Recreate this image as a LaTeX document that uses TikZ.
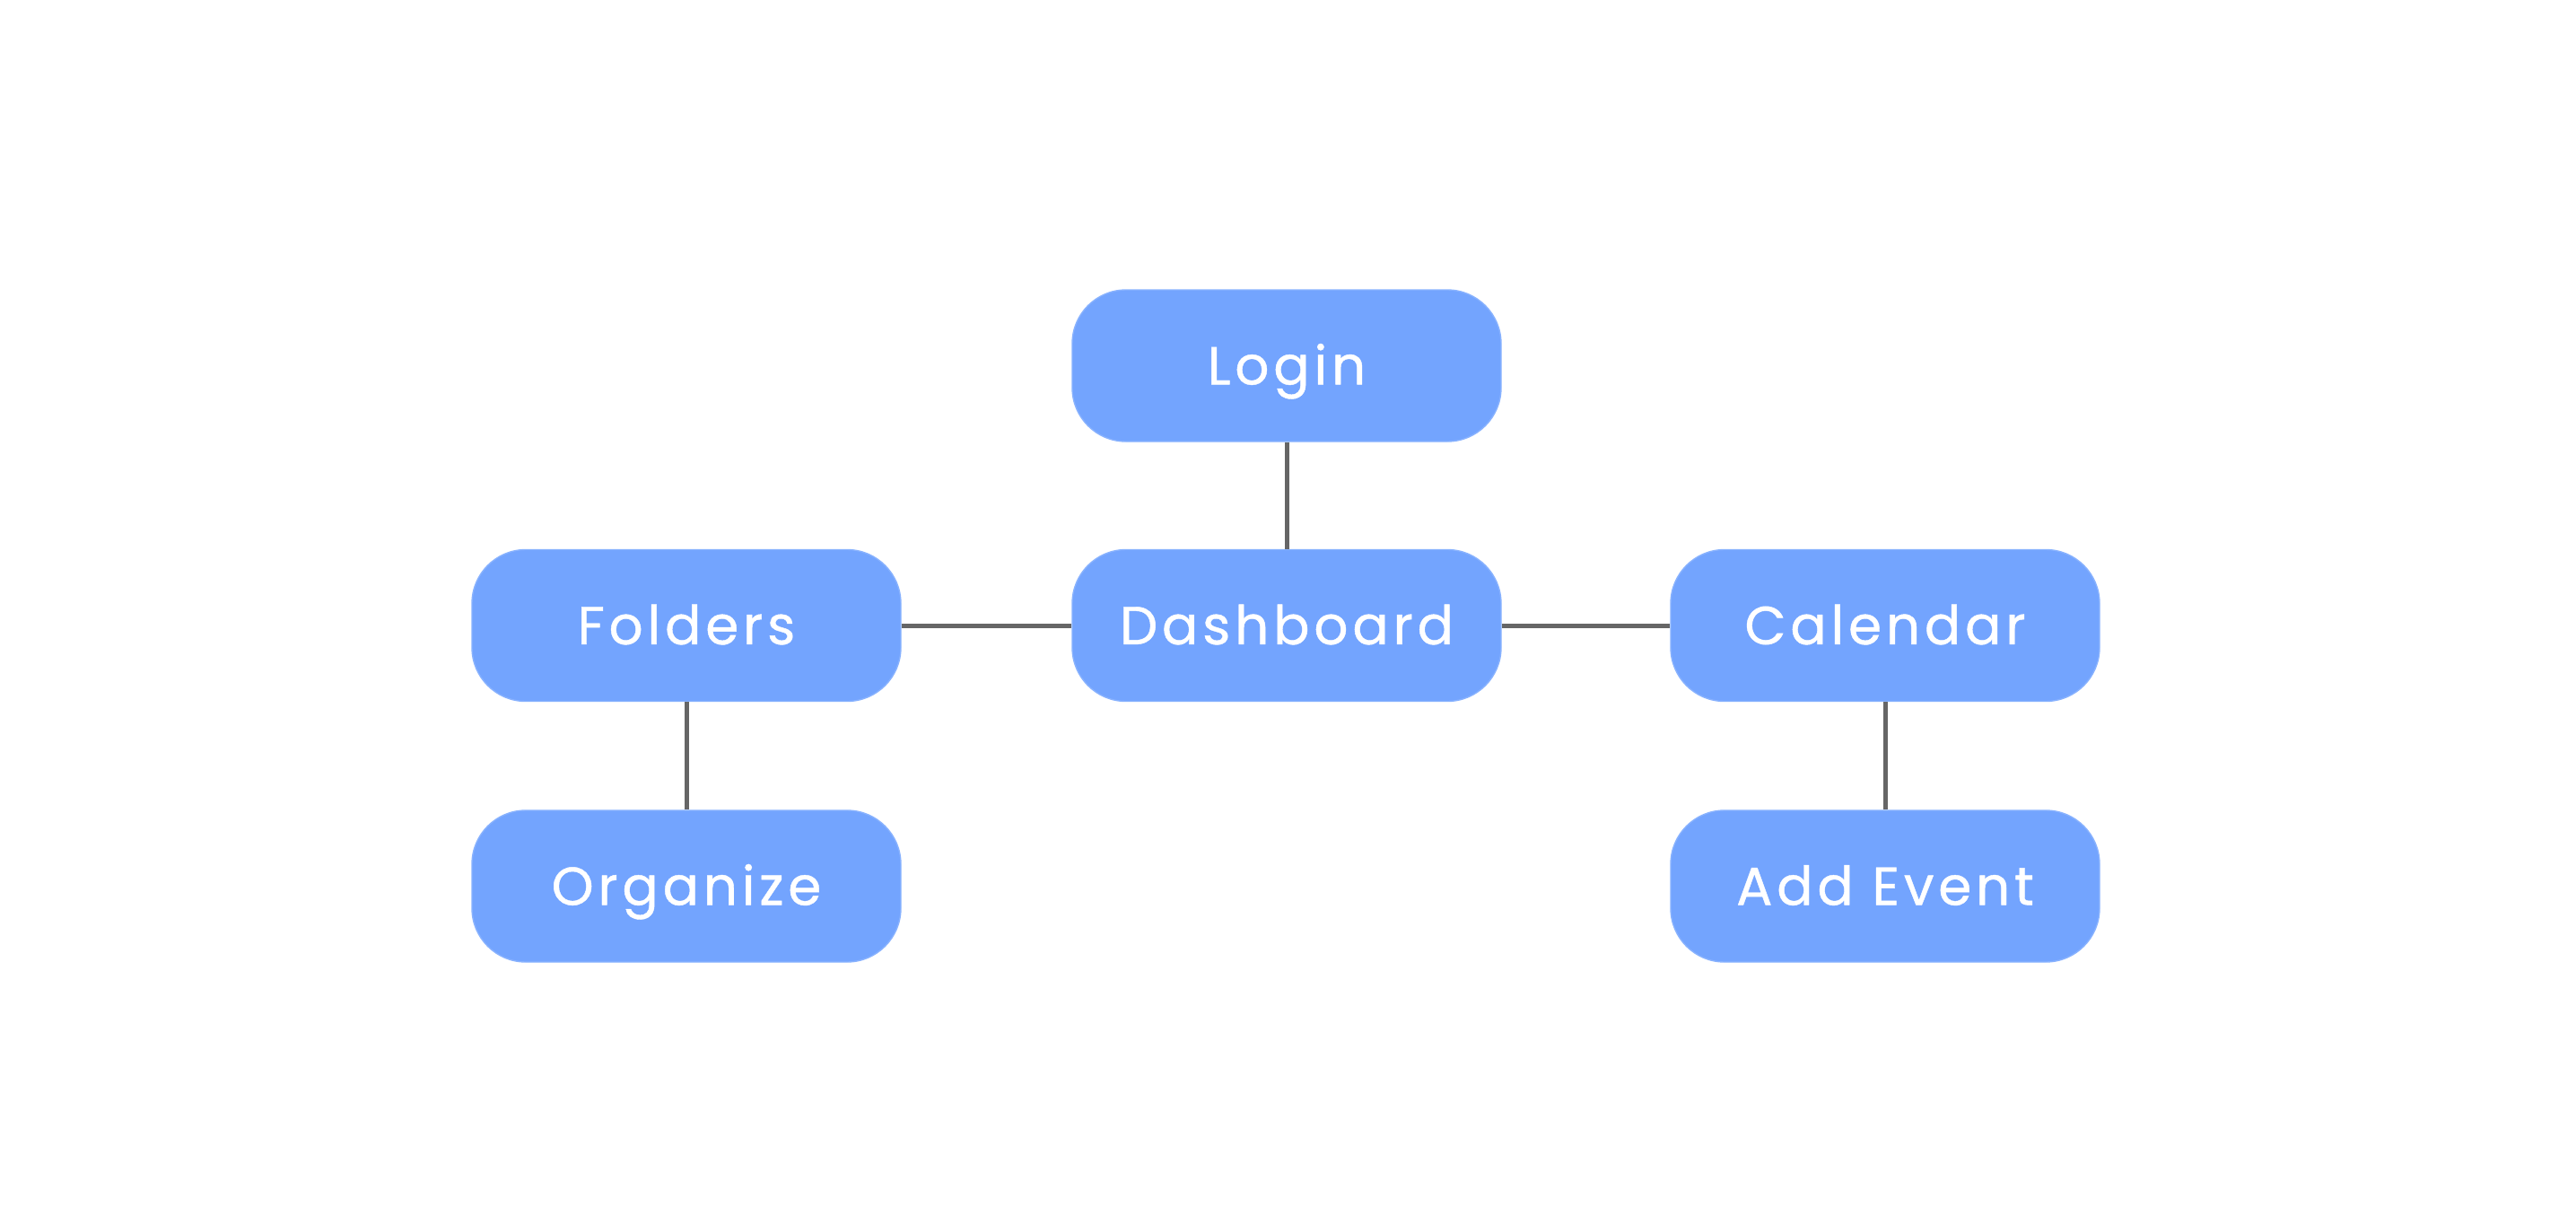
\documentclass[tikz,border=0pt]{standalone}
\usepackage{fontspec}
\setmainfont[LetterSpace=8,FakeBold=0.7]{Poppins}
\usepackage{tikz}

\definecolor{boxblue}{RGB}{115,164,254}
\definecolor{linegray}{RGB}{102,102,102}

\tikzset{
  screen/.style={fill=boxblue, draw=boxblue!85!white, line width=0.4pt,
    rounded corners=0.6cm, minimum width=4.78cm, minimum height=1.69cm,
    inner sep=0pt, text=white, font=\fontsize{17}{20}\selectfont,
    text height=11.9pt, text depth=0pt},
  link/.style={linegray, line width=0.05cm}
}

\begin{document}
\begin{tikzpicture}
    \useasboundingbox (0,0) rectangle (28.71,-13.45);

    \node [screen] (login) at (14.34,-4.075) {Login};
    \node [screen] (dashboard) at (14.34,-6.97) {Dashboard};
    \node [screen] (folders) at (7.65,-6.97) {Folders};
    \node [screen] (calendar) at (21.01,-6.97) {Calendar};
    \node [screen] (organize) at (7.65,-9.875) {Organize};
    \node [screen] (addevent) at (21.01,-9.875) {Add Event};

    \draw [link] (login) -- (dashboard);
    \draw [link] (folders) -- (dashboard);
    \draw [link] (dashboard) -- (calendar);
    \draw [link] (folders) -- (organize);
    \draw [link] (calendar) -- (addevent);
\end{tikzpicture}
\end{document}
